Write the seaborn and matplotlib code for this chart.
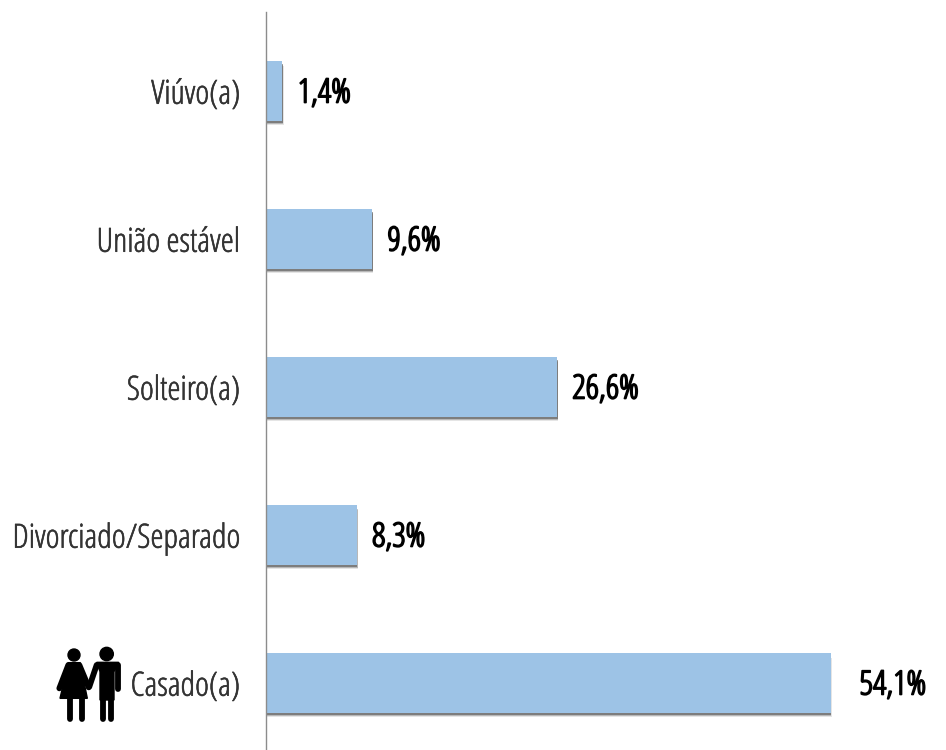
import pandas as pd
import matplotlib
matplotlib.use('Agg')
import matplotlib.pyplot as plt
import matplotlib.patheffects as pe
from matplotlib.patches import Circle, Polygon
import seaborn as sns

categories = ['Viúvo(a)', 'União estável', 'Solteiro(a)', 'Divorciado/Separado', 'Casado(a)']
# comprimentos (a barra de Casado está desenhada mais curta que o rótulo)
bar_lengths = [1.5, 9.7, 26.6, 8.3, 51.6]
value_labels = ['1,4%', '9,6%', '26,6%', '8,3%', '54,1%']

sns.set_theme(style='white')
plt.rcParams['font.family'] = ['Open Sans', 'DejaVu Sans']

df = pd.DataFrame({'estado': categories, 'pct': bar_lengths})

fig = plt.figure(figsize=(9.46, 7.5), dpi=100)
ax = fig.add_axes([266 / 946, 0, 1 - 266 / 946, 1 - 12 / 750])

sns.barplot(data=df, y='estado', x='pct', color='#9dc3e6', saturation=1, width=0.4,
            linewidth=0, ax=ax)

# sombra das barras, em camadas para ficar difusa
for bar in ax.patches:
    bar.set_path_effects([
        pe.SimplePatchShadow(offset=(0.8, -3.4), shadow_rgbFace='#999999', alpha=0.25),
        pe.SimplePatchShadow(offset=(0.6, -2.6), shadow_rgbFace='#666666', alpha=0.35),
        pe.SimplePatchShadow(offset=(0.4, -1.6), shadow_rgbFace='#444444', alpha=0.5),
        pe.Normal(),
    ])

ax.set_xlim(0, 680 / 10.94)
ax.set_ylim(4.453, -0.534)
ax.set_xlabel('')
ax.set_ylabel('')
ax.set_xticks([])
ax.tick_params(axis='y', length=0, pad=18.5, labelsize=24, labelcolor='#333333')
for lab in ax.get_yticklabels():
    lab.set_fontstretch('condensed')
    lab.set_path_effects([pe.withStroke(linewidth=0.4, foreground='#333333')])

for s in ['top', 'right', 'bottom']:
    ax.spines[s].set_visible(False)
ax.spines['left'].set_color('#8c8c8c')
ax.spines['left'].set_linewidth(1)

# a fonte condensada nao tem negrito, entao o traco engrossa o texto
for i, (v, txt) in enumerate(zip(bar_lengths, value_labels)):
    gap = 21 if i == 4 else 11
    t = ax.annotate(txt, xy=(v, i), xytext=(gap, -2), textcoords='offset points',
                    va='center', ha='left', fontsize=24, fontstretch='condensed', color='black')
    t.set_path_effects([pe.withStroke(linewidth=1.2, foreground='black')])

# icone do casal, ao lado de Casado(a)
icon = fig.add_axes([40 / 946, 1 - 730 / 750, 100 / 946, 100 / 750])
icon.set_xlim(0, 300)
icon.set_ylim(300, 0)
icon.axis('off')
icon.add_patch(Circle((102, 75), 18, color='black'))
icon.add_patch(Circle((200, 72), 20, color='black'))
icon.add_patch(Polygon([(85, 98), (120, 98), (142, 205), (60, 205)], color='black'))
icon.add_patch(Polygon([(170, 97), (236, 97), (222, 125), (222, 210), (180, 210), (180, 125)],
                       color='black'))
limbs = [
    ((89, 208), (89, 268)), ((127, 208), (127, 268)),
    ((188, 208), (188, 268)), ((214, 208), (214, 268)),
    ((85, 105), (58, 175)), ((118, 105), (146, 172)),
    ((170, 105), (148, 170)), ((234, 105), (234, 178)),
]
for p0, p1 in limbs:
    icon.plot([p0[0], p1[0]], [p0[1], p1[1]], color='black', lw=4.2, solid_capstyle='round')

fig.savefig('out.png', dpi=100)
